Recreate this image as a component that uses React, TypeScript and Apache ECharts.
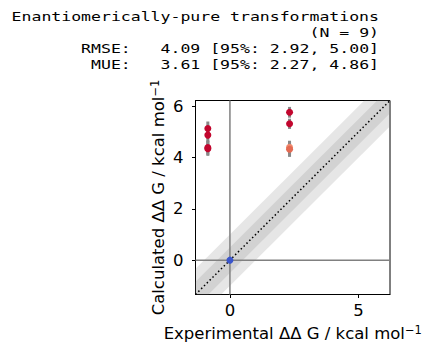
import React, { useEffect, useRef } from "react";
import * as echarts from "echarts";

const titleLines = [
  "Enantiomerically-pure transformations",
  "(N = 9)",
  "RMSE:   4.09 [95%: 2.92, 5.00]",
  "MUE:   3.61 [95%: 2.27, 4.86]",
];
const axisMin = -1.34;
const axisMax = 6.23;
const xTicks = [0, 5];
const yTicks = [0, 2, 4, 6];
const experimental = [-0.86, -0.86, -0.86, -0.86, 2.32, 2.32, 2.32, 2.32, 0.0];
const calculated = [5.14, 4.88, 4.39, 4.35, 5.77, 5.32, 4.4, 4.33, 0.0];
const calcError = [0.27, 0.27, 0.28, 0.28, 0.21, 0.2, 0.26, 0.3, 0.0];
const pointColors = [
  "#c2062e", "#c2062e", "#c2062e", "#c2062e",
  "#c2062e", "#c2062e", "#f08a6e", "#e46a52", "#3a55cc",
];
const bandOffsets = [1.0, 0.5];

const FONT = "DejaVu Sans";
const MONO = "DejaVu Sans Mono";

export default function App() {
  const ref = useRef<HTMLDivElement>(null);
  useEffect(() => {
    const chart = echarts.init(ref.current!, null, { renderer: "svg" });
    const a = axisMin;
    const b = axisMax;
    const lineYs = [16.5, 32.5, 48.5, 64.5];
    const nameStyle = {
      color: "#000",
      fontSize: 16.5,
      fontFamily: FONT,
      rich: {
        a: { fontSize: 16.5, fontFamily: FONT, color: "#000" },
        s: { fontSize: 11.5, fontFamily: FONT, color: "#000", verticalAlign: "top", padding: [0, 0, 8, 0] },
      },
    };
    const option: any = {
      animation: false,
      backgroundColor: "#fff",
      graphic: titleLines.map((t, i) => ({
        type: "text",
        x: 379,
        y: lineYs[i],
        scaleX: 1.27,
        style: {
          text: t,
          fontFamily: MONO,
          fontSize: 13,
          fill: "#000",
          align: "right",
          verticalAlign: "middle",
        },
      })),
      grid: {
        left: 195.5,
        top: 100.5,
        right: 42,
        bottom: 63.5,
        show: true,
        borderColor: "#000",
        borderWidth: 1,
        backgroundColor: "transparent",
      },
      xAxis: {
        type: "value",
        min: axisMin,
        max: axisMax,
        axisLine: { show: true, onZero: false, lineStyle: { color: "#000", width: 1 } },
        axisTick: { show: true, customValues: xTicks, length: 3.5, lineStyle: { color: "#000" } },
        axisLabel: { customValues: xTicks, color: "#000", fontSize: 16.5, fontFamily: FONT, margin: 7 },
        splitLine: { show: false },
        name: "{a|Experimental ΔΔ G / kcal mol}{s|−1}",
        nameLocation: "middle",
        nameGap: 29,
        nameTextStyle: nameStyle,
      },
      yAxis: {
        type: "value",
        min: axisMin,
        max: axisMax,
        axisLine: { show: true, onZero: false, lineStyle: { color: "#000", width: 1 } },
        axisTick: { show: true, customValues: yTicks, length: 3.5, lineStyle: { color: "#000" } },
        axisLabel: { customValues: yTicks, color: "#000", fontSize: 16.5, fontFamily: FONT, margin: 12 },
        splitLine: { show: false },
        name: "{a|Calculated ΔΔ G / kcal mol}{s|−1}",
        nameLocation: "middle",
        nameGap: 27,
        nameTextStyle: nameStyle,
      },
      series: [
        {
          type: "custom",
          z: 1,
          silent: true,
          data: bandOffsets.map((o) => [o, 0]),
          renderItem: (params: any, api: any) => {
            const off = api.value(0);
            const pts = [
              [a, a], [a + off, a], [b, b - off], [b, b], [b - off, b], [a, a + off],
            ].map((p) => api.coord(p));
            return {
              type: "polygon",
              shape: { points: pts },
              style: { fill: "rgba(128,128,128,0.2)" },
            };
          },
        },
        {
          type: "line",
          z: 2,
          silent: true,
          symbol: "none",
          data: [[a, 0], [b, 0]],
          lineStyle: { color: "#808080", width: 1.5 },
        },
        {
          type: "line",
          z: 2,
          silent: true,
          symbol: "none",
          data: [[0, a], [0, b]],
          lineStyle: { color: "#808080", width: 1.5 },
        },
        {
          type: "line",
          z: 3,
          silent: true,
          symbol: "none",
          data: [[a, a], [b, b]],
          lineStyle: { color: "#000", width: 1.5, type: [1.5, 2.5] },
        },
        {
          type: "custom",
          z: 4,
          silent: true,
          encode: { x: 0, y: 1 },
          data: experimental.map((x, i) => [x, calculated[i], calcError[i]]),
          renderItem: (params: any, api: any) => {
            const x = api.value(0);
            const y = api.value(1);
            const e = api.value(2);
            const p1 = api.coord([x, y - e]);
            const p2 = api.coord([x, y + e]);
            return {
              type: "line",
              shape: { x1: p1[0], y1: p1[1], x2: p2[0], y2: p2[1] },
              style: { stroke: "#888888", lineWidth: 3 },
            };
          },
        },
        {
          type: "scatter",
          z: 5,
          symbolSize: 7,
          data: experimental.map((x, i) => ({
            value: [x, calculated[i]],
            itemStyle: { color: pointColors[i], opacity: 1 },
          })),
        },
      ],
    };
    chart.setOption(option);
    return () => chart.dispose();
  }, []);
  return (
    <div
      ref={ref}
      style={{ position: "fixed", left: 0, top: 0, width: 432, height: 358 }}
    />
  );
}
